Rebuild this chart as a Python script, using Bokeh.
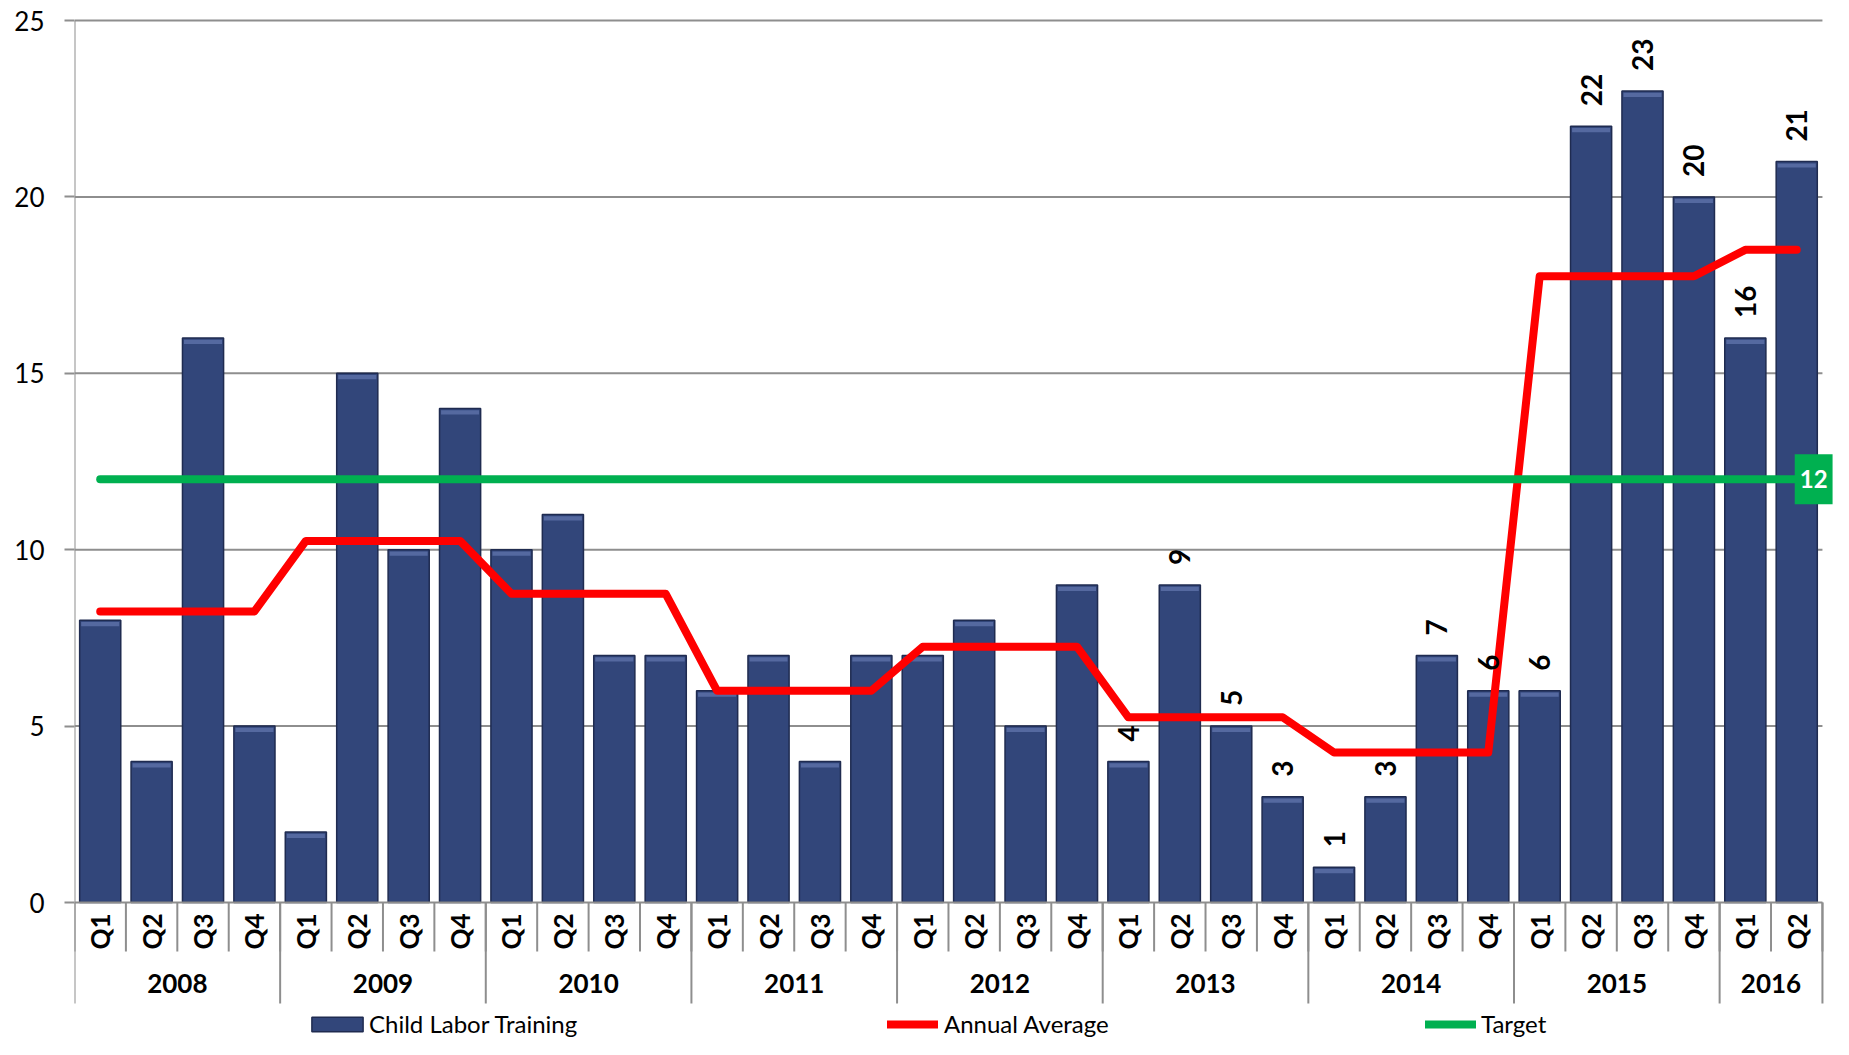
from bokeh.plotting import figure
from bokeh.models import Range1d, FixedTicker, Legend, LegendItem, Label, ColumnDataSource
from bokeh.core.properties import value
from bokeh.embed import file_html
from bokeh.resources import INLINE
import math

# ---------------- data ----------------
year_labels = ["2008", "2009", "2010", "2011", "2012", "2013", "2014", "2015", "2016"]
quarters_per_year = [4, 4, 4, 4, 4, 4, 4, 4, 2]
quarter_labels = ["Q1", "Q2", "Q3", "Q4"] * 8 + ["Q1", "Q2"]
training = [8, 4, 16, 5,
            2, 15, 10, 14,
            10, 11, 7, 7,
            6, 7, 4, 7,
            7, 8, 5, 9,
            4, 9, 5, 3,
            1, 3, 7, 6,
            6, 22, 23, 20,
            16, 21]
annual_average = [8.25, 10.25, 8.75, 6.0, 7.25, 5.25, 4.25, 17.75, 18.5]
target = 12
labeled_years = ["2013", "2014", "2015", "2016"]
y_ticks = [0, 5, 10, 15, 20, 25]

# ---------------- derived ----------------
quarter_year = []
avg_per_quarter = []
for yl, nq, av in zip(year_labels, quarters_per_year, annual_average):
    quarter_year += [yl] * nq
    avg_per_quarter += [av] * nq
n = len(training)
centers = [i + 0.5 for i in range(n)]
bar_text = [str(v) if yr in labeled_years else "" for v, yr in zip(training, quarter_year)]

year_edges = [0]
for nq in quarters_per_year:
    year_edges.append(year_edges[-1] + nq)
year_centers = [(a + b) / 2 for a, b in zip(year_edges[:-1], year_edges[1:])]

# ---------------- figure ----------------
PX_X = 51.41
PX_Y = 35.28
W, H = 1833, 1039
LEFT = 74
FW, FH = W - LEFT, H
y_top = 25 + 20 / PX_Y
y_bot = y_top - FH / PX_Y

p = figure(frame_width=FW, frame_height=FH,
           x_range=Range1d(0, FW / PX_X), y_range=Range1d(y_bot, y_top),
           output_backend="svg", toolbar_location=None,
           x_axis_location=None, y_axis_location="left",
           min_border_left=LEFT, min_border_right=0, min_border_top=0, min_border_bottom=0)
p.outline_line_color = None
p.grid.visible = False
p.background_fill_color = "white"
p.border_fill_color = "white"

GRAY = "#8E8E8E"
FONT = "Lato"

yax = p.yaxis[0]
yax.ticker = FixedTicker(ticks=y_ticks)
yax.axis_line_color = None
yax.major_tick_line_color = GRAY
yax.major_tick_line_width = 2
yax.major_tick_out = 10
yax.major_tick_in = 0
yax.minor_tick_line_color = None
yax.major_label_standoff = 20
yax.major_label_text_font = FONT
yax.major_label_text_font_size = "26px"
yax.major_label_text_color = "black"

# gridlines
grid_levels = [t for t in y_ticks if t > 0]
p.segment(x0=[0] * len(grid_levels), x1=[n] * len(grid_levels), y0=grid_levels, y1=grid_levels,
          line_color=GRAY, line_width=2)

# bars
src = ColumnDataSource(dict(x=centers, top=training, hl_top=[v - 0.05 for v in training],
                            hl_bot=[v - 0.17 for v in training], text=bar_text))
bars = p.vbar(x="x", top="top", bottom=0, width=0.8, source=src,
              fill_color="#32467A", line_color="#1F2B50", line_width=1.5)
p.vbar(x="x", top="hl_top", bottom="hl_bot", width=0.74, source=src,
       fill_color="#6478B0", fill_alpha=0.7, line_color=None)

# axis lines (left and baseline)
p.segment(x0=[0], x1=[0], y0=[0], y1=[25], line_color=GRAY, line_width=2)
p.segment(x0=[0], x1=[n], y0=[0], y1=[0], line_color=GRAY, line_width=2)

# category separators
q_len = 49 / PX_Y
y_len = 101 / PX_Y
edges = list(range(n + 1))
p.segment(x0=edges, x1=edges, y0=[0] * len(edges), y1=[-q_len] * len(edges),
          line_color=GRAY, line_width=2)
p.segment(x0=year_edges, x1=year_edges, y0=[0] * len(year_edges), y1=[-y_len] * len(year_edges),
          line_color=GRAY, line_width=2)

# quarter labels
p.text(x=centers, y=[0] * n, text=quarter_labels, angle=math.pi / 2,
       text_align="right", text_baseline="middle", y_offset=11,
       text_font=value(FONT), text_font_style="bold", text_font_size="26px", text_color="black")
# year labels
p.text(x=year_centers, y=[0] * len(year_centers), text=year_labels,
       text_align="center", text_baseline="middle", y_offset=81,
       text_font=value(FONT), text_font_style="bold", text_font_size="26px", text_color="black")

# annual average
avg_line = p.line(x=centers, y=avg_per_quarter, line_color="#FF0000", line_width=8,
                  line_cap="round", line_join="round")
# target
tgt_line = p.line(x=[centers[0], centers[-1]], y=[target, target], line_color="#00B050",
                  line_width=8, line_cap="round")

# bar value labels
p.text(x="x", y="top", text="text", source=src, angle=math.pi / 2,
       text_align="left", text_baseline="middle", y_offset=-20,
       text_font=value(FONT), text_font_style="bold", text_font_size="28px", text_color="black")

# target label (padding tuple is (horizontal, vertical))
p.add_layout(Label(x=centers[-1], y=target, x_offset=-2, text=str(target),
                   text_color="white", text_font=FONT, text_font_style="bold",
                   text_font_size="24px", text_align="left", text_baseline="middle",
                   background_fill_color="#00B050", padding=(5, 16)))

# legends
def make_legend(label, rend, x, gw, gh, standoff):
    return Legend(items=[LegendItem(label=label, renderers=[rend])], location=(x, 1),
                  orientation="horizontal", glyph_width=gw, glyph_height=gh,
                  label_standoff=standoff, label_height=gh, padding=0, margin=0, spacing=0,
                  border_line_color=None, background_fill_alpha=0,
                  label_text_font=FONT, label_text_font_size="24px", label_text_color="black")

p.add_layout(make_legend("Child Labor Training", bars, 231, 64, 18, 0))
p.add_layout(make_legend("Annual Average", avg_line, 813, 51, 18, 6))
p.add_layout(make_legend("Target", tgt_line, 1351, 51, 18, 5))

open("out.html", "w").write(file_html(p, INLINE))
